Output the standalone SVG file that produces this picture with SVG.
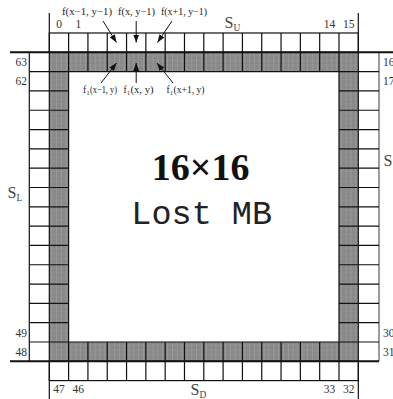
<svg xmlns="http://www.w3.org/2000/svg" width="393" height="399" viewBox="0 0 393 399">
<style>
.lbl{font-family:"Liberation Serif",serif;font-size:11.5px;fill:#333}
.f{font-family:"Liberation Serif",serif;font-size:9.5px;fill:#222}
.sub{font-family:"Liberation Serif",serif;font-size:6px;fill:#222}
.S{font-family:"Liberation Serif",serif;font-size:16px;fill:#444}
.Ssub{font-size:9.5px}
.grid{fill:none;stroke:#111;stroke-width:1.2}
.frame{fill:none;stroke:#111;stroke-width:2}
.arr{stroke:#111;stroke-width:1;fill:none;marker-end:url(#ah)}
</style>
<defs>
<pattern id="tex" patternUnits="userSpaceOnUse" x="49.3" y="52.3" width="4.828" height="4.828">
<rect width="4.828" height="4.828" fill="#888"/>
<line x1="2.4" y1="0" x2="2.4" y2="4.828" stroke="#b3b3b3" stroke-width="0.6" stroke-dasharray="1.2 1"/>
<line x1="0" y1="3.2" x2="4.828" y2="3.2" stroke="#a8a8a8" stroke-width="0.5" stroke-dasharray="1 1.2"/>
</pattern>
<marker id="ah" markerUnits="userSpaceOnUse" markerWidth="8" markerHeight="6" refX="8" refY="3" orient="auto">
<path d="M0,0 L8,3 L0,6 z" fill="#111"/>
</marker>
</defs>
<rect width="393" height="399" fill="#fff"/>

<g id="lost-mb">
<rect x="49.3" y="52.3" width="309" height="309" fill="#fff"/>
<rect x="49.3" y="52.3" width="309" height="19.31" fill="url(#tex)"/>
<rect x="49.3" y="341.99" width="309" height="19.31" fill="url(#tex)"/>
<rect x="49.3" y="52.3" width="19.31" height="309" fill="url(#tex)"/>
<rect x="338.99" y="52.3" width="19.31" height="309" fill="url(#tex)"/>
<text x="200.7" y="180" font-family="Liberation Serif,serif" font-weight="bold" font-size="38" fill="#111" text-anchor="middle">16×16</text>
<text x="201.7" y="224" font-family="Liberation Mono,monospace" font-size="33.5" fill="#222" text-anchor="middle">Lost MB</text>
</g>

<g id="su-row">
<rect x="49.3" y="33" width="309" height="19.3" fill="#fff" stroke="#111" stroke-width="1.2"/>
</g>
<g id="sd-row">
<rect x="49.3" y="361.3" width="309" height="19.3" fill="#fff" stroke="#111" stroke-width="1.2"/>
</g>
<g id="sl-col">
<path class="grid" d="M29.3 52.3 V361.3"/>
</g>
<g id="sr-col">
<path d="M379 52.3 V361.3" stroke="#666" stroke-width="1.3" fill="none"/>
</g>

<g id="grid-lines">
<path class="grid" d="M68.61 33V71.61 M87.93 33V71.61 M107.24 33V71.61 M126.55 33V71.61 M145.86 33V71.61 M165.18 33V71.61 M184.49 33V71.61 M203.8 33V71.61 M223.11 33V71.61 M242.43 33V71.61 M261.74 33V71.61 M281.05 33V71.61 M300.36 33V71.61 M319.68 33V71.61 M338.99 33V71.61"/>
<path class="grid" d="M68.61 341.99V380.6 M87.93 341.99V380.6 M107.24 341.99V380.6 M126.55 341.99V380.6 M145.86 341.99V380.6 M165.18 341.99V380.6 M184.49 341.99V380.6 M203.8 341.99V380.6 M223.11 341.99V380.6 M242.43 341.99V380.6 M261.74 341.99V380.6 M281.05 341.99V380.6 M300.36 341.99V380.6 M319.68 341.99V380.6 M338.99 341.99V380.6"/>
<path class="grid" d="M29.3 71.61H68.61 M29.3 90.93H68.61 M29.3 110.24H68.61 M29.3 129.55H68.61 M29.3 148.86H68.61 M29.3 168.18H68.61 M29.3 187.49H68.61 M29.3 206.8H68.61 M29.3 226.11H68.61 M29.3 245.43H68.61 M29.3 264.74H68.61 M29.3 284.05H68.61 M29.3 303.36H68.61 M29.3 322.68H68.61 M29.3 341.99H68.61"/>
<path class="grid" d="M338.99 71.61H379 M338.99 90.93H379 M338.99 110.24H379 M338.99 129.55H379 M338.99 148.86H379 M338.99 168.18H379 M338.99 187.49H379 M338.99 206.8H379 M338.99 226.11H379 M338.99 245.43H379 M338.99 264.74H379 M338.99 284.05H379 M338.99 303.36H379 M338.99 322.68H379 M338.99 341.99H379"/>
<path class="grid" d="M68.61 71.61H338.99V341.99H68.61Z"/>
<path class="frame" d="M10 52.3H393 M10 361.3H379"/>
<path class="grid" stroke-width="1.5" d="M49.3 13V399 M358.3 13V399"/>
</g>

<g id="connectors">
<path class="arr" d="M103 21 L116.5 42.5"/>
<path class="arr" d="M136.2 21 L136.2 42.5"/>
<path class="arr" d="M172 21 L157.5 42.5"/>
<path class="arr" d="M101 83 L116.5 63"/>
<path class="arr" d="M136.2 83 L136.2 63"/>
<path class="arr" d="M173 83 L157 63"/>
</g>

<g id="labels">
<text class="f" x="62" y="15" textLength="50" lengthAdjust="spacingAndGlyphs">f(x−1, y−1)</text>
<text class="f" x="118" y="15" textLength="37" lengthAdjust="spacingAndGlyphs">f(x, y−1)</text>
<text class="f" x="161" y="15" textLength="46" lengthAdjust="spacingAndGlyphs">f(x+1, y−1)</text>

<text class="f" x="83" y="93">f</text><text class="sub" x="86.5" y="95">1</text>
<text class="f" x="90" y="93" textLength="27" lengthAdjust="spacingAndGlyphs">(x−1, y)</text>
<text class="f" x="123.5" y="93">f</text><text class="sub" x="127" y="95">1</text>
<text class="f" x="130.5" y="93" textLength="23" lengthAdjust="spacingAndGlyphs">(x, y)</text>
<text class="f" x="166.5" y="93">f</text><text class="sub" x="170" y="95">1</text>
<text class="f" x="173.5" y="93" textLength="31" lengthAdjust="spacingAndGlyphs">(x+1, y)</text>

<text class="lbl" x="59" y="28" text-anchor="middle">0</text>
<text class="lbl" x="78.3" y="28" text-anchor="middle">1</text>
<text class="lbl" x="329.5" y="28" text-anchor="middle">14</text>
<text class="lbl" x="348.8" y="28" text-anchor="middle">15</text>

<text class="lbl" x="27" y="66" text-anchor="end">63</text>
<text class="lbl" x="27" y="85.3" text-anchor="end">62</text>
<text class="lbl" x="27" y="336.5" text-anchor="end">49</text>
<text class="lbl" x="27" y="355.8" text-anchor="end">48</text>

<text class="lbl" x="383" y="66">16</text>
<text class="lbl" x="383" y="85.3">17</text>
<text class="lbl" x="383" y="336.5">30</text>
<text class="lbl" x="383" y="355.8">31</text>

<text class="lbl" x="59" y="393" text-anchor="middle">47</text>
<text class="lbl" x="78.3" y="393" text-anchor="middle">46</text>
<text class="lbl" x="329.5" y="393" text-anchor="middle">33</text>
<text class="lbl" x="348.8" y="393" text-anchor="middle">32</text>

<text class="S" x="224.5" y="28">S<tspan class="Ssub" dy="3">U</tspan></text>
<text class="S" x="190.5" y="395">S<tspan class="Ssub" dy="2.5">D</tspan></text>
<text class="S" x="7.5" y="198">S<tspan class="Ssub" dy="3">L</tspan></text>
<text class="S" x="383.5" y="166">S</text>
</g>
</svg>
